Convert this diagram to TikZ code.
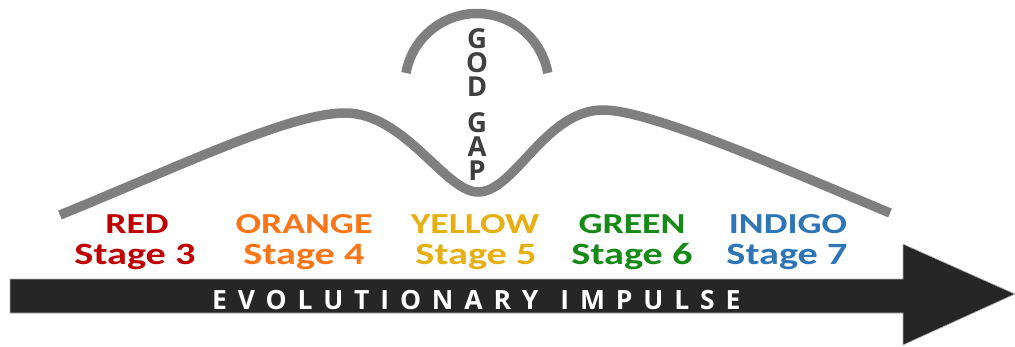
\documentclass[tikz,border=0pt]{standalone}
\usepackage{fontspec}
\newfontfamily\labfont{Carlito}[UprightFont={* Bold},FakeStretch=1.3]
\newfontfamily\osfont{Open Sans}[UprightFont={* Bold}]
\newfontfamily\evofont{Open Sans}[UprightFont={* Bold},LetterSpace=41]
\definecolor{cred}{HTML}{C00000}
\definecolor{corange}{HTML}{FA7518}
\definecolor{cyellow}{HTML}{E6B012}
\definecolor{cgreen}{HTML}{168A16}
\definecolor{cindigo}{HTML}{2E75B6}
\definecolor{cgray}{HTML}{7F7F7F}
\definecolor{cdark}{HTML}{262626}
\definecolor{cgod}{HTML}{404040}
\begin{document}
\begin{tikzpicture}[x=1pt,y=-1pt,
  curve/.style={draw=cgray,line width=9.5pt,line cap=butt},
  arrowbody/.style={fill=cdark,draw=gray!60,line width=0.7pt},
  lbl/.style={inner sep=0pt,anchor=base,font=\labfont\fontsize{29}{31}\selectfont},
  stg/.style={inner sep=0pt,anchor=base,font=\labfont\fontsize{31}{33}\selectfont},
  godl/.style={inner sep=0pt,anchor=base,text=cgod,text height=20pt,text depth=0pt,font=\osfont\fontsize{27.5}{30}\selectfont},
  evo/.style={inner sep=0pt,anchor=base west,text=white,font=\evofont\fontsize{26.5}{28}\selectfont}]
\useasboundingbox (0,0) rectangle (1015,346);
\fill[white] (0,0) rectangle (1015,346);
% arrow
\draw[arrowbody] (10,279) -- (903,279) -- (903,244) -- (1015,294) -- (903,345) -- (903,313) -- (10,313) -- cycle;
\node[evo] (impulse) at (212,309) {EVOLUTIONARY\hspace{22pt}IMPULSE};
% curves
\draw[curve] (60,215) .. controls (180,166) and (290,113) .. (345,113)
  .. controls (405,113) and (445,192) .. (478,192)
  .. controls (515,192) and (545,110) .. (603,110)
  .. controls (650,110) and (780,167) .. (890,213);
\draw[curve] (406,73) arc[start angle=190, end angle=350, radius=72];
% god gap letters
\node[godl] (g1) at (477,48) {G};
\node[godl] (g2) at (477,72) {O};
\node[godl] (g3) at (477,96) {D};
\node[godl] (g4) at (477,132) {G};
\node[godl] (g5) at (477,156) {A};
\node[godl] (g6) at (477,180) {P};
% labels
\node[lbl,text=cred] (red) at (137,233) {RED};
\node[stg,text=cred] (s3) at (135,264) {Stage 3};
\node[lbl,text=corange] (orange) at (304,233) {ORANGE};
\node[stg,text=corange] (s4) at (304,264) {Stage 4};
\node[lbl,text=cyellow] (yellow) at (475,233) {YELLOW};
\node[stg,text=cyellow] (s5) at (476,264) {Stage 5};
\node[lbl,text=cgreen] (green) at (632,233) {GREEN};
\node[stg,text=cgreen] (s6) at (632,264) {Stage 6};
\node[lbl,text=cindigo] (indigo) at (788,233) {INDIGO};
\node[stg,text=cindigo] (s7) at (787,264) {Stage 7};
\end{tikzpicture}
\end{document}
